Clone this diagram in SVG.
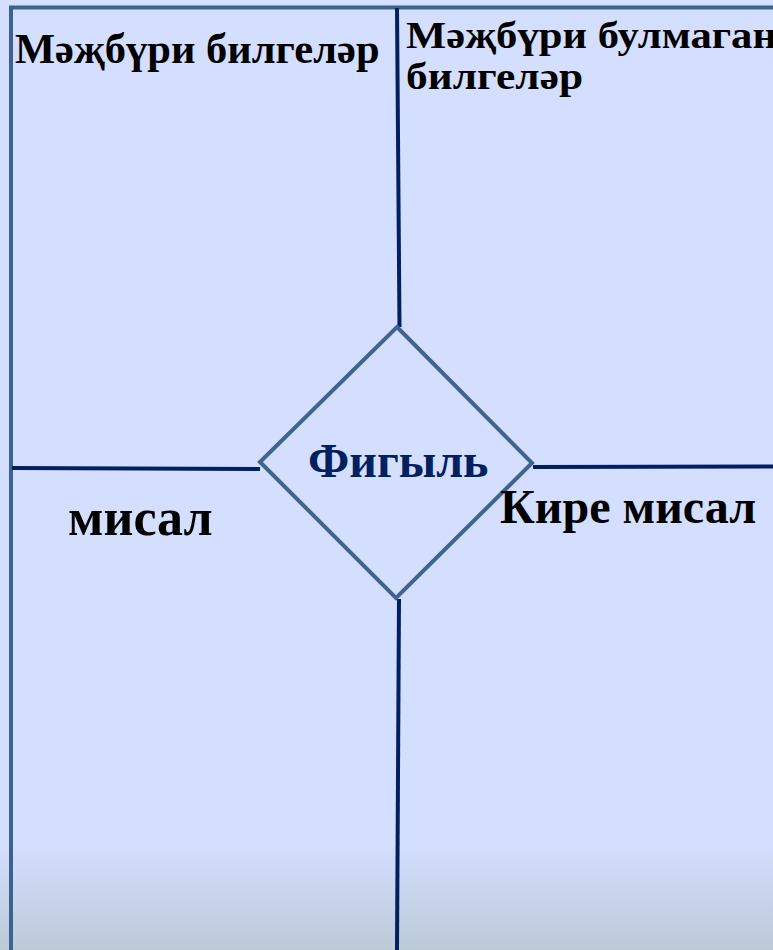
<svg xmlns="http://www.w3.org/2000/svg" width="773" height="950" viewBox="0 0 773 950">
<defs>
<linearGradient id="bg" x1="0" y1="0" x2="0" y2="1">
<stop offset="0" stop-color="#d4defe"/>
<stop offset="0.89" stop-color="#d4defe"/>
<stop offset="1" stop-color="#bccad8"/>
</linearGradient>
<style>
.t{font-family:"Liberation Serif","Times New Roman",serif;font-weight:bold;fill:#000}
.ln{stroke:#002060;stroke-width:4;fill:none}
</style>
</defs>
<rect x="0" y="0" width="773" height="950" fill="url(#bg)"/>
<g id="frame">
<path d="M11,955 V7.5 H780" fill="none" stroke="#3d6190" stroke-width="4"/>
</g>
<g id="connectors">
<line class="ln" x1="397" y1="8" x2="399.5" y2="327"/>
<line class="ln" x1="399" y1="599" x2="397" y2="950"/>
<line class="ln" x1="12" y1="468" x2="260" y2="469"/>
<line class="ln" x1="533" y1="467" x2="773" y2="466.5"/>
</g>
<g id="diamond">
<polygon points="397,327 532,463 396,598 260,462" fill="#d4defe" stroke="#3f6490" stroke-width="4" stroke-linejoin="miter"/>
<text x="308" y="477" class="t" style="fill:#002060" font-size="48">Фигыль</text>
</g>
<g id="q1"><text x="15" y="63" class="t" font-size="42.5">Мәҗбүри билгеләр</text></g>
<g id="q2">
<text x="406" y="48" class="t" font-size="38" textLength="371" lengthAdjust="spacingAndGlyphs">Мәҗбүри булмаган</text>
<text x="406" y="89" class="t" font-size="38" textLength="177" lengthAdjust="spacingAndGlyphs">билгеләр</text>
</g>
<g id="q3"><text x="68" y="535" class="t" font-size="52">мисал</text></g>
<g id="q4"><text x="500" y="523" class="t" font-size="48">Кире мисал</text></g>
</svg>
